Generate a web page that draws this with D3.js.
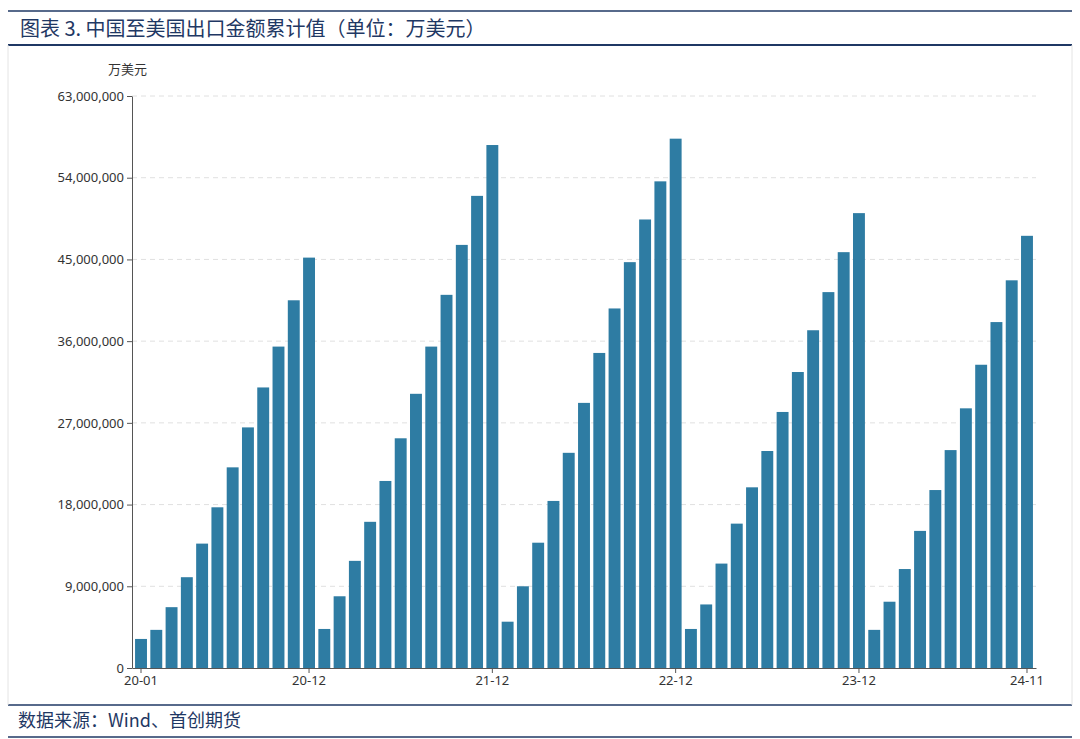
<!DOCTYPE html>
<html><head><meta charset="utf-8">
<script src="https://cdn.jsdelivr.net/npm/d3@7"></script>
<style>body{margin:0;background:#fff;font-family:"Noto Sans CJK SC","Noto Sans",sans-serif;}</style>
</head><body>
<svg id="chart" width="1080" height="739"></svg>
<script>
'use strict';
// values in millions of 万美元
var years = ["20", "21", "22", "23", "24"];
var v2020 = [3.2, 4.2, 6.7, 10.0, 13.7, 17.7, 22.1, 26.5, 30.9, 35.4, 40.5, 45.2];
var v2021 = [4.3, 7.9, 11.8, 16.1, 20.6, 25.3, 30.2, 35.4, 41.1, 46.6, 52.0, 57.6];
var v2022 = [5.1, 9.0, 13.8, 18.4, 23.7, 29.2, 34.7, 39.6, 44.7, 49.4, 53.6, 58.3];
var v2023 = [4.3, 7.0, 11.5, 15.9, 19.9, 23.9, 28.2, 32.6, 37.2, 41.4, 45.8, 50.1];
var v2024 = [4.2, 7.3, 10.9, 15.1, 19.6, 24.0, 28.6, 33.4, 38.1, 42.7, 47.6];
var yTicks = [0, 9e6, 18e6, 27e6, 36e6, 45e6, 54e6, 63e6];
var xLabels = ["20-01", "20-12", "21-12", "22-12", "23-12", "24-11"];

var data = [];
[v2020, v2021, v2022, v2023, v2024].forEach(function(arr, i) {
  arr.forEach(function(v, m) {
    var mm = m + 1 < 10 ? "0" + (m + 1) : "" + (m + 1);
    data.push({ key: years[i] + "-" + mm, value: v * 1e6 });
  });
});

var svg = d3.select("#chart");
var navy = "#1f3864";

// header / footer frame
svg.append("line").attr("x1", 8).attr("x2", 1072).attr("y1", 11).attr("y2", 11).attr("stroke", navy).attr("stroke-width", 1.5);
svg.append("line").attr("x1", 8).attr("x2", 1072).attr("y1", 45).attr("y2", 45).attr("stroke", navy).attr("stroke-width", 2);
svg.append("line").attr("x1", 8).attr("x2", 1072).attr("y1", 705).attr("y2", 705).attr("stroke", navy).attr("stroke-width", 1.5);
svg.append("line").attr("x1", 8).attr("x2", 1072).attr("y1", 737).attr("y2", 737).attr("stroke", navy).attr("stroke-width", 1.5);
svg.append("line").attr("x1", 8).attr("x2", 8).attr("y1", 45).attr("y2", 705).attr("stroke", "#e4e4e4");
svg.append("line").attr("x1", 1072).attr("x2", 1072).attr("y1", 45).attr("y2", 705).attr("stroke", "#e4e4e4");

svg.append("text").attr("x", 20).attr("y", 36).attr("font-size", 20).attr("fill", navy)
  .text("图表 3. 中国至美国出口金额累计值（单位：万美元）");
svg.append("text").attr("x", 18).attr("y", 727).attr("font-size", 18).attr("fill", navy)
  .text("数据来源：Wind、首创期货");

var x = d3.scaleBand().domain(data.map(function(d) { return d.key; }))
  .range([132, 1036]).paddingInner(0.22).paddingOuter(0.2);
var y = d3.scaleLinear().domain([0, 63e6]).range([668, 96]);

// grid
svg.append("g").selectAll("line").data(yTicks.slice(1)).join("line")
  .attr("x1", 132).attr("x2", 1036)
  .attr("y1", function(d) { return y(d); }).attr("y2", function(d) { return y(d); })
  .attr("stroke", "#e0e0e0").attr("stroke-dasharray", "5,4");

svg.append("g").selectAll("rect").data(data).join("rect")
  .attr("x", function(d) { return x(d.key); })
  .attr("width", x.bandwidth())
  .attr("y", function(d) { return y(d.value); })
  .attr("height", function(d) { return 668 - y(d.value); })
  .attr("fill", "#2e7ca3");

var yAxis = svg.append("g").attr("transform", "translate(132,0)")
  .call(d3.axisLeft(y).tickValues(yTicks).tickFormat(d3.format(",")).tickSize(5).tickSizeOuter(0));
var xKeys = ["20-01", "20-12", "21-12", "22-12", "23-12", "24-11"];
var xAxis = svg.append("g").attr("transform", "translate(0,668)")
  .call(d3.axisBottom(x).tickValues(xKeys).tickFormat(function(d, i) { return xLabels[i]; }).tickSize(5).tickSizeOuter(0));
[yAxis, xAxis].forEach(function(g) {
  g.selectAll("path,line").attr("stroke", "#555");
  g.selectAll("text").attr("fill", "#333").attr("font-size", 13).attr("font-family", "Noto Sans, sans-serif");
});
svg.append("text").attr("x", 108).attr("y", 74).attr("font-size", 13).attr("fill", "#333").text("万美元");
</script>
</body></html>
